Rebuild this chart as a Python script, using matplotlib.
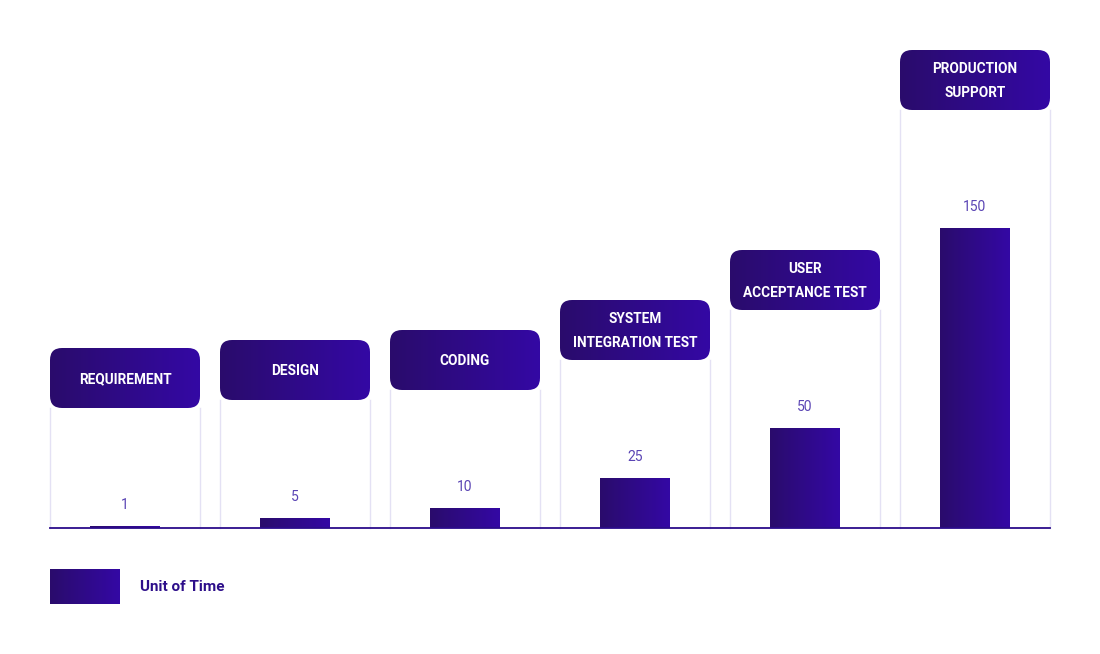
import numpy as np
import matplotlib
matplotlib.use("Agg")
import matplotlib.pyplot as plt
from matplotlib.colors import LinearSegmentedColormap
from matplotlib.patches import FancyBboxPatch, Rectangle

# data
stages = ["REQUIREMENT", "DESIGN", "CODING", "SYSTEM\nINTEGRATION TEST",
          "USER\nACCEPTANCE TEST", "PRODUCTION\nSUPPORT"]
units = [1, 5, 10, 25, 50, 150]
legend_label = "Unit of Time"

plt.rcParams['font.family'] = ['Roboto', 'DejaVu Sans']

grad = LinearSegmentedColormap.from_list("g", ["#2a0c6c", "#3408a4"])
gimg = np.linspace(0, 1, 64).reshape(1, -1)

fig = plt.figure(figsize=(11, 6.54), dpi=100)
ax = fig.add_axes([0, 0, 1, 1])
# one x unit = 170 px (column pitch), one y unit = 2 px
ax.set_xlim(-125 / 170, 975 / 170)
ax.set_ylim(-63, 264)
ax.axis("off")

col_w = 150 / 170
bar_w = 70 / 170
gap_lbl = 59     # box bottom above bar top (y units)
box_h = 30


def grad_fill(patch, x0, x1, y0, y1):
    ax.add_patch(patch)
    im = ax.imshow(gimg, cmap=grad, extent=[x0, x1, y0, y1],
                   aspect="auto", interpolation="bicubic", zorder=2)
    im.set_clip_path(patch)


for i, (name, v) in enumerate(zip(stages, units)):
    # column guide lines
    top = v + gap_lbl
    for xe in (i - col_w / 2, i + col_w / 2):
        ax.plot([xe, xe], [0, top], color="#e4e1f4", lw=1, zorder=1)
    # bar
    bar = Rectangle((i - bar_w / 2, 0), bar_w, v, facecolor="none",
                    edgecolor="none")
    grad_fill(bar, i - bar_w / 2, i + bar_w / 2, 0, v)
    ax.text(i, v + 10.5, str(v), ha="center", va="center", fontsize=10,
            color="#5a44b4", zorder=3)
    # header box
    box = FancyBboxPatch((i - col_w / 2, top), col_w, box_h,
                         boxstyle="round,pad=0,rounding_size=%f" % (12 / 170),
                         mutation_aspect=85, facecolor="none", edgecolor="none")
    grad_fill(box, i - col_w / 2, i + col_w / 2, top, top + box_h)
    ax.text(i, top + box_h / 2 - 0.5, name, ha="center", va="center",
            fontsize=9.8, fontweight="bold", color="white",
            linespacing=1.95, zorder=3)

ax.plot([-col_w / 2, len(stages) - 1 + col_w / 2], [0, 0],
        color="#2b0c8a", lw=1.3, zorder=3)

# legend
lx0 = -col_w / 2
leg = Rectangle((lx0, -38), bar_w, 17.5, facecolor="none", edgecolor="none")
grad_fill(leg, lx0, lx0 + bar_w, -38, -20.5)
ax.text(lx0 + 90 / 170, -29.5, legend_label, ha="left", va="center",
        fontsize=11, fontweight="bold", color="#2d0e8a")

fig.savefig("out.png", dpi=100)
